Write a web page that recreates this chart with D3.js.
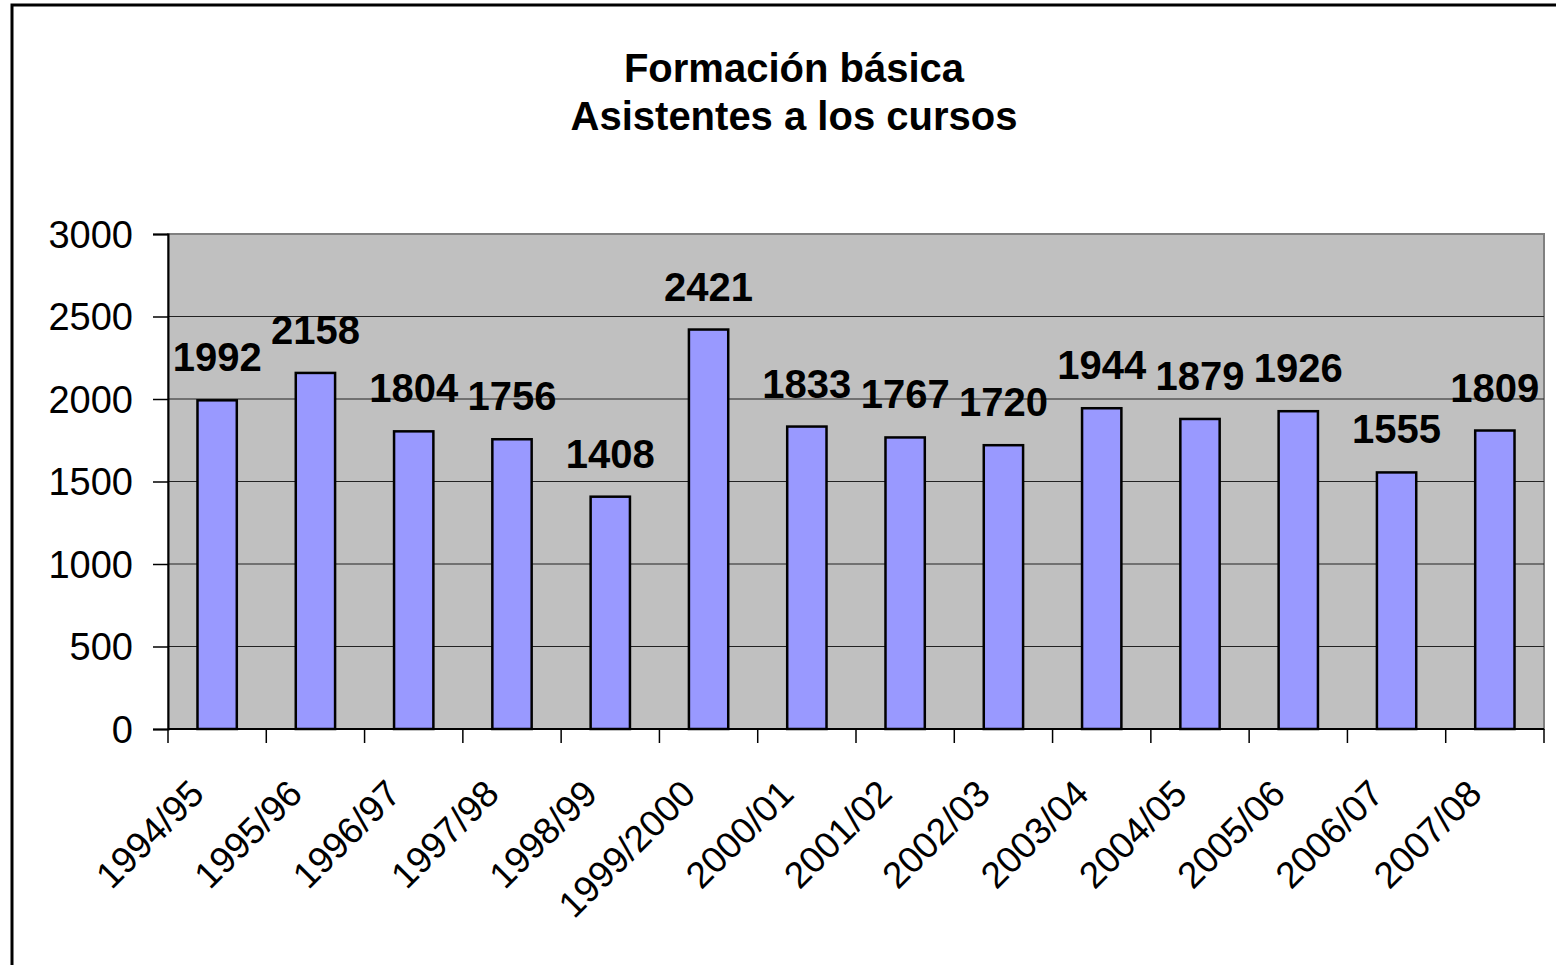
<!DOCTYPE html>
<html>
<head>
<meta charset="utf-8">
<script src="https://cdn.jsdelivr.net/npm/d3@7"></script>
<style>
  body { margin: 0; background: #fff; }
  svg { display: block; font-family: "Liberation Sans", Arial, sans-serif; }
</style>
</head>
<body>
<svg id="chart" width="1556" height="965"></svg>
<script>
const cursos = ['1994/95', '1995/96', '1996/97', '1997/98', '1998/99', '1999/2000', '2000/01',
  '2001/02', '2002/03', '2003/04', '2004/05', '2005/06', '2006/07', '2007/08'];
const asistentes = [1992, 2158, 1804, 1756, 1408, 2421, 1833, 1767, 1720, 1944, 1879, 1926, 1555, 1809];
const yTicks = [0, 500, 1000, 1500, 2000, 2500, 3000];
const titulo = ['Formación básica', 'Asistentes a los cursos'];

const svg = d3.select('#chart');
const margin = {top: 234, left: 168, right: 12, bottom: 236};
const width = +svg.attr('width') - margin.left - margin.right,
  height = +svg.attr('height') - margin.top - margin.bottom;

// outer frame
svg.append('rect')
  .attr('x', 12).attr('y', 5)
  .attr('width', 1600).attr('height', 1000)
  .attr('fill', 'none').attr('stroke', '#000').attr('stroke-width', 3);

svg.append('g')
  .selectAll('text')
  .data(titulo)
  .enter().append('text')
  .attr('x', 794)
  .attr('y', (d, i) => 82 + i * 48)
  .attr('text-anchor', 'middle')
  .attr('font-weight', 'bold')
  .attr('font-size', 40)
  .text(d => d);

const x = d3.scaleBand()
  .domain(cursos)
  .range([0, width])
  .paddingInner(0.6)
  .paddingOuter(0.3);

const y = d3.scaleLinear()
  .domain([0, 3000])
  .range([height, 0]);

const g = svg.append('g')
  .attr('transform', 'translate(' + margin.left + ',' + margin.top + ')');

g.append('rect')
  .attr('width', width).attr('height', height)
  .attr('fill', '#c0c0c0')
  .attr('stroke', '#808080').attr('stroke-width', 2);

// gridlines
g.append('g')
  .selectAll('line')
  .data(yTicks.slice(1, -1))
  .enter().append('line')
  .attr('x1', 0).attr('x2', width)
  .attr('y1', d => y(d)).attr('y2', d => y(d))
  .attr('stroke', '#222').attr('stroke-width', 1.2);

// bars
g.append('g')
  .selectAll('rect')
  .data(asistentes)
  .enter().append('rect')
  .attr('x', (d, i) => x(cursos[i]))
  .attr('y', d => y(d))
  .attr('width', x.bandwidth())
  .attr('height', d => height - y(d))
  .attr('fill', '#9999ff')
  .attr('stroke', '#000').attr('stroke-width', 2.5);

// data labels
g.append('g')
  .selectAll('text')
  .data(asistentes)
  .enter().append('text')
  .attr('x', (d, i) => x(cursos[i]) + x.bandwidth() / 2)
  .attr('y', d => y(d) - 29)
  .attr('text-anchor', 'middle')
  .attr('font-weight', 'bold')
  .attr('font-size', 40)
  .text(d => d);

// y axis
const yAxis = g.append('g')
  .call(d3.axisLeft(y).tickValues(yTicks).tickFormat(d3.format('d')).tickSize(15).tickPadding(20));
yAxis.attr('font-family', null).attr('font-size', null);
yAxis.select('.domain').attr('stroke', '#000').attr('stroke-width', 2);
yAxis.selectAll('.tick line').attr('stroke', '#000').attr('stroke-width', 1.5);
yAxis.selectAll('.tick text').attr('font-size', 38).attr('dy', '0.35em');

// x axis: ticks at category boundaries
const xAxis = g.append('g')
  .attr('transform', 'translate(0,' + height + ')');
xAxis.append('line')
  .attr('x1', 0).attr('x2', width)
  .attr('stroke', '#000').attr('stroke-width', 2);
xAxis.selectAll('.tk')
  .data(d3.range(cursos.length + 1))
  .enter().append('line')
  .attr('class', 'tk')
  .attr('x1', i => i * x.step()).attr('x2', i => i * x.step())
  .attr('y1', 0).attr('y2', 14)
  .attr('stroke', '#000').attr('stroke-width', 1.5);
xAxis.selectAll('text')
  .data(cursos)
  .enter().append('text')
  .attr('transform', d => 'translate(' + (x(d) + x.bandwidth() / 2 - 11) + ',' + 67 + ') rotate(-45)')
  .attr('text-anchor', 'end')
  .attr('font-size', 37)
  .text(d => d);
</script>
</body>
</html>
